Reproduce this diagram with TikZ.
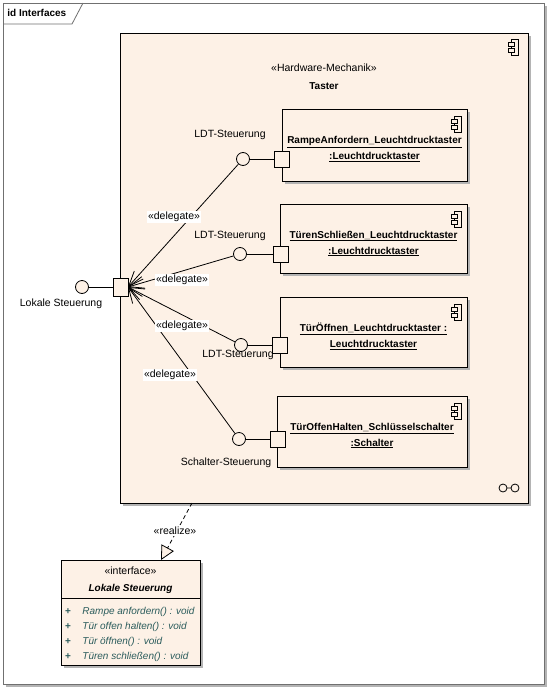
\documentclass[tikz,border=0pt]{standalone}
\usepackage{fontspec}
\setmainfont{Liberation Sans}
\usetikzlibrary{arrows.meta,shadows}
\definecolor{beige}{HTML}{FDF1E6}
\definecolor{shade}{HTML}{B4B4B4}
\definecolor{optext}{HTML}{2B5C5C}
\definecolor{frameline}{HTML}{707070}

\tikzset{
  umlshadow/.style={drop shadow={shadow xshift=3pt,shadow yshift=-3pt,fill=shade,opacity=1}},
  compbox/.style={draw,fill=beige,umlshadow,inner sep=0pt,outer sep=0pt},
  comptext/.style={align=center,font=\fontsize{10pt}{12pt}\selectfont\bfseries,inner sep=0pt},
  portbox/.style={draw,fill=beige,minimum width=15pt,minimum height=16pt,inner sep=0pt,outer sep=0pt},
  lolli/.style={draw,fill=beige,circle,minimum size=13pt,inner sep=0pt},
  dlbl/.style={fill=white,inner sep=1pt},
  delegate/.style={-{Straight Barb[length=15pt,width=12pt]}},
  realize/.style={dash pattern=on 4pt off 3pt,-{Triangle[open,fill=beige,length=14pt,width=14pt]}},
  compicon/.pic={
    \draw[fill=beige,line width=0.6pt] (-7,0) rectangle (0,16);
    \draw[fill=beige,line width=0.6pt] (-10,3) rectangle (-4,7);
    \draw[fill=beige,line width=0.6pt] (-10,9) rectangle (-4,13);
  }
}

\begin{document}
\begin{tikzpicture}[x=1pt,y=-1pt,line width=0.8pt,font=\fontsize{10.5pt}{12pt}\selectfont]
  \useasboundingbox (0,0) rectangle (550,691);

  % frame
  \draw[frameline,fill=white,umlshadow] (3,3) rectangle (544,684);
  \draw[frameline] (3,24) -- (72,24) -- (83,3);
  \node[anchor=west,inner sep=0pt,font=\fontsize{10pt}{12pt}\selectfont\bfseries] (title) at (7,13) {id Interfaces};

  % component Taster
  \node[compbox,minimum width=408pt,minimum height=470pt] (taster) at (324,268) {};
  \pic at ([xshift=-10pt,yshift=-6pt]taster.north east) {compicon};
  \node (tasterstereo) at (324,68) {«Hardware-Mechanik»};
  \node[font=\fontsize{10pt}{12pt}\selectfont\bfseries] (tastername) at (324,86) {Taster};
  \draw (503,488) circle[radius=4pt] (507,488) -- (511,488) (515,488) circle[radius=4pt];

  % parts
  \node[compbox,minimum width=185pt,minimum height=72pt] (rampe) at (374.5,145) {};
  \node[compbox,minimum width=187pt,minimum height=69pt] (schliessen) at (373.5,238.5) {};
  \node[compbox,minimum width=187pt,minimum height=70pt] (oeffnen) at (373.5,332) {};
  \node[compbox,minimum width=190pt,minimum height=71pt] (halten) at (372,431.5) {};
  \foreach \part in {rampe,schliessen,oeffnen,halten}
    \pic at ([xshift=-6pt,yshift=-7pt]\part.north east) {compicon};

  \node[comptext] (rampetext) at ([yshift=-4pt]rampe.center)
    {\underline{RampeAnfordern\_Leuchtdrucktaster}\\[4pt]\underline{:Leuchtdrucktaster}};
  \node[comptext] (schliessentext) at ([yshift=-5pt]schliessen.center)
    {\underline{TürenSchließen\_Leuchtdrucktaster}\\[4pt]\underline{:Leuchtdrucktaster}};
  \node[comptext] (oeffnentext) at ([yshift=-4pt]oeffnen.center)
    {\underline{TürÖffnen\_Leuchtdrucktaster :}\\[4pt]\underline{Leuchtdrucktaster}};
  \node[comptext] (haltentext) at ([yshift=-4pt]halten.center)
    {\underline{TürOffenHalten\_Schlüsselschalter}\\[4pt]\underline{:Schalter}};

  % ports and provided interfaces
  \node[portbox] (prampe) at (281.5,159) {};
  \node[portbox] (pschliessen) at (280.5,254) {};
  \node[portbox] (poeffnen) at (280,345) {};
  \node[portbox] (phalten) at (278,439) {};
  \node[lolli] (crampe) at (243,159) {};
  \node[lolli] (cschliessen) at (240,254) {};
  \node[lolli] (coeffnen) at (241,345) {};
  \node[lolli] (chalten) at (239,439) {};
  \draw (crampe) -- (prampe);
  \draw (cschliessen) -- (pschliessen);
  \draw (coeffnen) -- (poeffnen);
  \draw (chalten) -- (phalten);
  \node (lrampe) at (230,135) {LDT-Steuerung};
  \node (lschliessen) at (230,236) {LDT-Steuerung};
  \node (loeffnen) at (238,355) {LDT-Steuerung};
  \node (lhalten) at (226,463) {Schalter-Steuerung};

  % outer port
  \node[lolli] (clokal) at (82,287) {};
  \node[portbox,minimum height=18pt] (hub) at (120.5,287) {};
  \draw (clokal) -- (hub);
  \node (llokal) at (61,304) {Lokale Steuerung};

  % delegations
  \draw[delegate] (crampe) -- (hub.east);
  \draw[delegate] (cschliessen) -- (hub.east);
  \draw[delegate] (coeffnen) -- (hub.east);
  \draw[delegate] (chalten) -- (hub.east);
  \node[dlbl] (drampe) at (174,217) {«delegate»};
  \node[dlbl] (dschliessen) at (182,280) {«delegate»};
  \node[dlbl] (doeffnen) at (182,326) {«delegate»};
  \node[dlbl] (dhalten) at (170,375) {«delegate»};

  % interface
  \node[compbox,minimum width=139pt,minimum height=105pt] (iface) at (130.5,612.5) {};
  \coordinate (sepy) at (0,598);
  \draw (iface.west |- sepy) -- (iface.east |- sepy);
  \node (ifstereo) at (130.5,571) {«interface»};
  \node[font=\fontsize{10pt}{12pt}\selectfont\bfseries\itshape] (ifname) at (130.5,589) {Lokale Steuerung};
  \foreach \op [count=\i] in {Rampe anfordern() : void,Tür offen halten() : void,Tür öffnen() : void,Türen schließen() : void} {
    \node[optext,font=\fontsize{10pt}{12pt}\selectfont\bfseries] (plus\i) at (68,597+15*\i) {+};
    \node[optext,font=\fontsize{10pt}{12pt}\selectfont\itshape,anchor=west,inner sep=0pt] (op\i) at (82,597+15*\i) {\op};
  }

  % realization
  \coordinate (realsrc) at (192,503);
  \coordinate (realtip) at (161,560);
  \draw[realize] (realsrc) -- (realtip);
  \node[dlbl] (lrealize) at (175,531) {«realize»};
\end{tikzpicture}
\end{document}
